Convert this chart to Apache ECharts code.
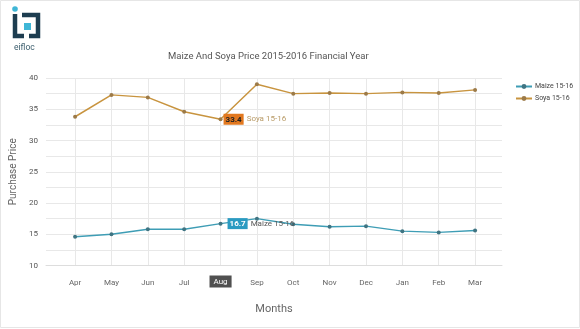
<!DOCTYPE html>
<html>
<head>
<meta charset="utf-8">
<script src="https://cdn.jsdelivr.net/npm/echarts@6/dist/echarts.min.js"></script>
<style>html,body{margin:0;padding:0;background:#fff;}#c{width:580px;height:329px;}</style>
</head>
<body>
<div id="c"></div>
<script>
var months = ['Apr','May','Jun','Jul','Aug','Sep','Oct','Nov','Dec','Jan','Feb','Mar'];
var maize = [14.6, 15.0, 15.8, 15.8, 16.7, 17.5, 16.6, 16.2, 16.3, 15.5, 15.3, 15.6];
var soya = [33.8, 37.3, 36.9, 34.6, 33.4, 39.0, 37.5, 37.6, 37.5, 37.7, 37.6, 38.1];
var yTicks = [10, 15, 20, 25, 30, 35, 40];
var highlightIndex = 4;

function pairs(arr){ return arr.map(function(v,i){ return [i, v]; }); }
var idx = months.map(function(m,i){ return i; });

var chart = echarts.init(document.getElementById('c'), null, {renderer:'canvas'});
var font = 'Roboto, "Open Sans", sans-serif';

function labelled(arr, name, boxBg, boxColor, nameColor, dist){
  return arr.map(function(v,i){
    if (i !== highlightIndex) return [i, v];
    return {value: [i, v], label: {show: true, position: 'right', distance: dist,
      formatter: '{a|' + v.toFixed(1) + '}{b|' + name + '}',
      rich: {
        a: {backgroundColor: boxBg, color: boxColor, fontSize: 8, fontWeight: 'bold', padding: [2,2,1,2]},
        b: {color: nameColor, fontSize: 8, padding: [0,0,0,3]}
      }}};
  });
}

chart.setOption({
  animation: false,
  textStyle: {fontFamily: font},
  title: {
    text: 'Maize And Soya Price 2015-2016 Financial Year',
    left: 163, top: 47,
    textStyle: {fontSize: 9.5, fontWeight: 'normal', color: '#555', fontFamily: font}
  },
  legend: {
    orient: 'vertical', left: 510, top: 78,
    itemWidth: 16, itemHeight: 6, itemGap: 5,
    textStyle: {fontSize: 7, color: '#444', padding: [0,0,0,-2]},
    data: ['Maize 15-16', 'Soya 15-16']
  },
  grid: {left: 46, right: 78, top: 78, bottom: 63.5},
  xAxis: {
    type: 'value', min: -0.8, max: 11.74,
    name: 'Months', nameLocation: 'middle', nameGap: 38,
    nameTextStyle: {fontSize: 11, color: '#666'},
    axisLine: {show: true, onZero: false, lineStyle: {color: '#ddd'}},
    axisTick: {show: false, customValues: idx},
    axisLabel: {customValues: idx, fontSize: 8, color: '#666', margin: 13,
      formatter: function(v){ return months[Math.round(v)]; }},
    splitLine: {show: true, lineStyle: {color: '#e8e8e8'}},
    axisPointer: {
      show: true, value: highlightIndex, status: 'show', triggerTooltip: false,
      lineStyle: {opacity: 0},
      label: {show: true, backgroundColor: '#505050', color: '#fff', fontSize: 8,
        padding: [2,4,2,4], margin: 10, borderRadius: 0,
        formatter: function(p){ return months[Math.round(p.value)]; }}
    }
  },
  yAxis: {
    type: 'value', min: 10, max: 40, interval: 2.5,
    name: 'Purchase Price', nameLocation: 'middle', nameGap: 27,
    nameTextStyle: {fontSize: 10, color: '#666'},
    axisLine: {show: false}, axisTick: {show: false},
    axisLabel: {fontSize: 8, color: '#555', margin: 8,
      formatter: function(v){ return yTicks.indexOf(v) >= 0 ? String(v) : ''; }},
    splitLine: {lineStyle: {color: '#e8e8e8'}}
  },
  series: [
    {
      name: 'Maize 15-16', type: 'line', data: labelled(maize, 'Maize 15-16', '#2a9bc2', '#fff', '#555', 5),
      color: '#3e9db5', symbol: 'circle', symbolSize: 4,
      lineStyle: {width: 1.5, color: '#3e9db5'},
      itemStyle: {color: '#3f7482'}
    },
    {
      name: 'Soya 15-16', type: 'line', data: labelled(soya, 'Soya 15-16', '#e2781f', '#222', '#b89a66', 1),
      color: '#c8943f', symbol: 'circle', symbolSize: 4,
      lineStyle: {width: 1.5, color: '#c8943f'},
      itemStyle: {color: '#9c7a48'}
    }
  ],
  graphic: [
    {type: 'rect', shape: {x: 0.5, y: 0.5, width: 579, height: 327}, style: {fill: 'none', stroke: '#e6e6e6', lineWidth: 1}, silent: true},
    {type: 'circle', shape: {cx: 15, cy: 9, r: 2.8}, style: {fill: '#3fb6d6'}},
    {type: 'polyline', shape: {points: [[15, 14], [15, 36], [24, 36]]}, style: {stroke: '#1d3d50', lineWidth: 4.5, fill: 'none'}},
    {type: 'polyline', shape: {points: [[22, 15], [38, 15], [38, 36], [29, 36]]}, style: {stroke: '#1d3d50', lineWidth: 4.5, fill: 'none'}},
    {type: 'rect', shape: {x: 24, y: 23, width: 7, height: 7}, style: {fill: '#3fb6d6'}},
    {type: 'text', left: 14, top: 43, style: {text: 'eifloc', fill: '#3d5f6e', font: '8.5px ' + font, letterSpacing: 1.5}}
  ]
});
</script>
</body>
</html>
